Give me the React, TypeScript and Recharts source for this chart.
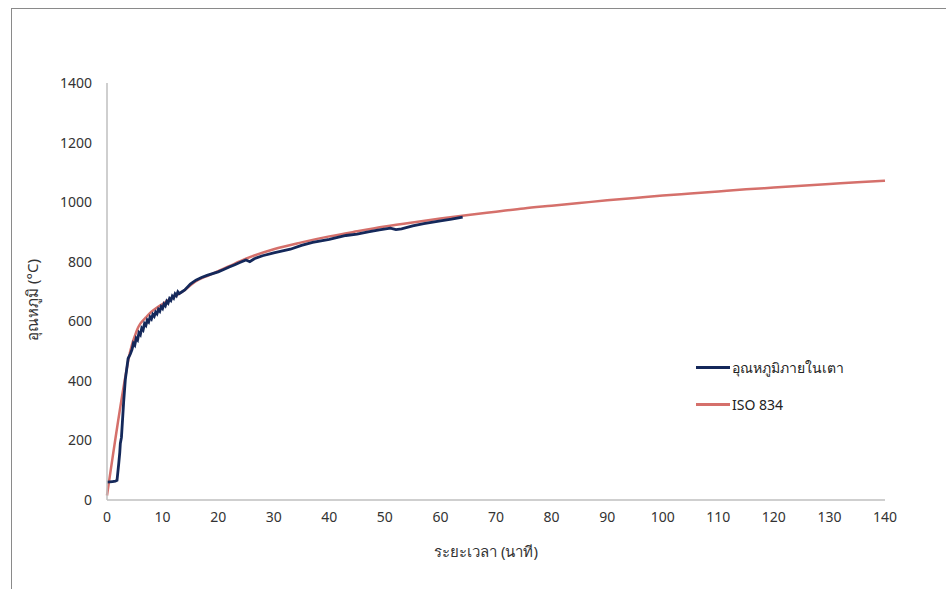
import React from 'react';
import { LineChart, Line, XAxis, YAxis, Label } from 'recharts';

// furnace temperature log (minutes, °C)
const furnaceTime = [
  0, 0.5, 1, 1.5, 1.8, 2.1, 2.3, 2.4, 2.6, 3, 3.3, 3.8, 4.2, 4.5, 4.75, 5, 5.25, 5.5, 5.75, 6,
  6.25, 6.5, 6.75, 7, 7.25, 7.5, 7.75, 8, 8.25, 8.5, 8.75, 9, 9.25, 9.5, 9.75, 10, 10.25, 10.5,
  10.75, 11, 11.25, 11.5, 11.75, 12, 12.25, 12.5, 12.75, 13, 13.5, 14, 15, 16, 17, 18, 19, 20,
  21, 22, 23, 24, 25, 25.7, 26.5, 28, 30, 32, 33, 35, 37, 40, 43, 45, 47, 49, 51, 52, 53, 55,
  57, 60, 62, 64,
];
const furnaceTemp = [
  60, 61, 62, 63, 66, 120, 160, 190, 210, 330, 405, 475, 490, 505, 526, 520, 543, 537, 561, 555,
  577, 571, 592, 586, 604, 598, 614, 608, 623, 617, 631, 625, 640, 634, 649, 643, 658, 652, 667,
  661, 676, 670, 684, 678, 692, 686, 699, 693, 699, 705, 725, 738, 747, 754, 760, 766, 774, 782,
  790, 798, 806, 800, 810, 820, 830, 838, 842, 855, 865, 875, 888, 893, 900, 907, 913, 908, 910,
  920, 928, 937, 943, 950,
];

// ISO 834 standard fire curve (minutes, °C)
const isoTime = [
  0, 3.5, 4, 4.5, 5, 5.5, 6, 7, 8, 9, 10, 12, 14, 16, 18, 20, 22, 25, 30, 35, 40, 45, 50, 55, 60,
  65, 70, 75, 80, 85, 90, 95, 100, 105, 110, 115, 120, 125, 130, 135, 140,
];
const isoTemp = [
  15, 435, 485, 522, 550, 575, 592, 613, 632, 646, 658, 682, 705, 735, 752, 768, 785, 810, 842,
  865, 885, 902, 918, 932, 945, 957, 968, 979, 988, 997, 1006, 1014, 1022, 1029, 1036, 1043,
  1049, 1055, 1061, 1067, 1072,
];

const xTicks = [0, 10, 20, 30, 40, 50, 60, 70, 80, 90, 100, 110, 120, 130, 140];
const yTicks = [0, 200, 400, 600, 800, 1000, 1200, 1400];

const seriesNames = ['อุณหภูมิภายในเตา', 'ISO 834'];
const seriesColors = ['#14285a', '#d5706b'];

const furnaceData = furnaceTime.map((t, i) => ({ t, v: furnaceTemp[i] }));
const isoData = isoTime.map((t, i) => ({ t, v: isoTemp[i] }));

const font = "'Noto Sans', 'Open Sans', sans-serif";

function LegendBox() {
  return (
    <div style={{ position: 'absolute', left: 696, top: 349, fontFamily: font, fontSize: 14, color: '#222' }}>
      {seriesNames.map((name, i) => (
        <div key={name} style={{ display: 'flex', alignItems: 'center', height: 37, whiteSpace: 'nowrap' }}>
          <span
            style={{ display: 'inline-block', width: 34, height: 3, background: seriesColors[i], marginRight: 2 }}
          />
          <span>{name}</span>
        </div>
      ))}
    </div>
  );
}

export default function App() {
  return (
    <div style={{ position: 'absolute', left: 0, top: 0, width: 946, height: 589, background: '#fff', overflow: 'hidden' }}>
      <div
        style={{
          position: 'absolute', left: 11, top: 8, width: 960, height: 600,
          borderTop: '1.5px solid #8a8a8a', borderLeft: '1.5px solid #8a8a8a',
        }}
      />
      <LineChart
        width={946}
        height={589}
        margin={{ top: 83, right: 61, bottom: 0, left: 47 }}
        style={{ position: 'absolute', left: 0, top: 0, fontFamily: font }}
      >
        <XAxis
          dataKey="t"
          type="number"
          domain={[0, 140]}
          ticks={xTicks}
          allowDuplicatedCategory={false}
          tickLine={false}
          tickSize={0}
          tickMargin={12}
          axisLine={{ stroke: '#bfbfbf', strokeWidth: 1.5 }}
          tick={{ fill: '#333', fontSize: 14 }}
          height={89}
        >
          <Label
            content={({ viewBox }: any) => (
              <text x={486} y={viewBox.y + 57} textAnchor="middle" fill="#333" fontSize={15}>
                ระยะเวลา (นาที)
              </text>
            )}
          />
        </XAxis>
        <YAxis
          dataKey="v"
          type="number"
          domain={[0, 1400]}
          ticks={yTicks}
          tickLine={false}
          tickSize={0}
          tickMargin={15}
          width={60}
          axisLine={{ stroke: '#bfbfbf', strokeWidth: 1.5 }}
          tick={{ fill: '#333', fontSize: 14 }}
        >
          <Label
            content={() => (
              <text x={38} y={300} textAnchor="middle" fill="#333" fontSize={15} transform="rotate(-90 38 300)">
                อุณหภูมิ (°C)
              </text>
            )}
          />
        </YAxis>
        <Line
          data={isoData}
          dataKey="v"
          name={seriesNames[1]}
          type="monotone"
          stroke={seriesColors[1]}
          strokeWidth={2.5}
          dot={false}
          isAnimationActive={false}
        />
        <Line
          data={furnaceData}
          dataKey="v"
          name={seriesNames[0]}
          type="linear"
          stroke={seriesColors[0]}
          strokeWidth={2.8}
          dot={false}
          isAnimationActive={false}
        />
      </LineChart>
      <LegendBox />
    </div>
  );
}
